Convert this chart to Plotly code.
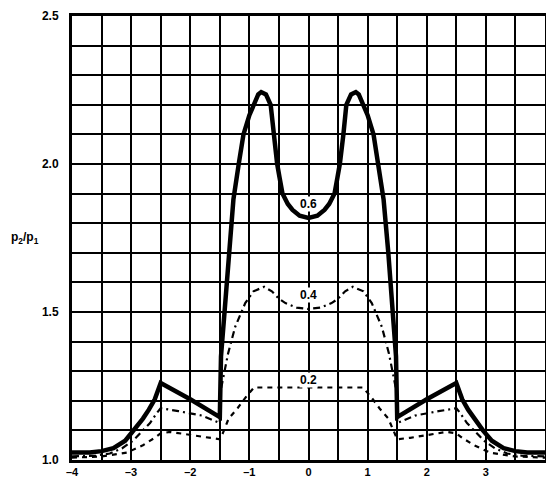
import plotly.graph_objects as go

# ---- data ----
curve06_x = [-4.0, -3.7, -3.5, -3.3, -3.1, -2.95, -2.8, -2.7, -2.6, -2.5, -2.0, -1.5,
             -1.48, -1.42, -1.35, -1.27, -1.18, -1.1, -1.0, -0.93, -0.85, -0.8, -0.72,
             -0.64, -0.59, -0.53, -0.49, -0.44, -0.35, -0.27, -0.15, 0.0,
             0.15, 0.27, 0.35, 0.44, 0.49, 0.53, 0.59, 0.64, 0.72, 0.8, 0.85, 0.93,
             1.0, 1.1, 1.18, 1.27, 1.35, 1.42, 1.48,
             1.5, 2.0, 2.5, 2.6, 2.7, 2.8, 2.95, 3.1, 3.3, 3.5, 3.7, 4.0]
curve06_y = [1.025, 1.025, 1.03, 1.04, 1.065, 1.10, 1.14, 1.17, 1.205, 1.26, 1.205, 1.145,
             1.35, 1.50, 1.70, 1.88, 2.00, 2.10, 2.165, 2.20, 2.235, 2.243, 2.235,
             2.20, 2.10, 2.00, 1.955, 1.90, 1.865, 1.845, 1.825, 1.818,
             1.825, 1.845, 1.865, 1.90, 1.955, 2.00, 2.10, 2.20, 2.235, 2.243, 2.235, 2.20,
             2.165, 2.10, 2.00, 1.88, 1.70, 1.50, 1.35,
             1.145, 1.205, 1.26, 1.205, 1.17, 1.14, 1.10, 1.065, 1.04, 1.03, 1.025, 1.025]

curve04_x = [-4.0, -3.6, -3.36, -3.15, -2.97, -2.8, -2.68, -2.56, -2.5, -2.2, -1.8, -1.5,
             -1.5, -1.45, -1.36, -1.24, -1.07, -0.93, -0.75, -0.62, -0.5, -0.39, -0.2, 0.0,
             0.2, 0.39, 0.5, 0.62, 0.75, 0.93, 1.07, 1.24, 1.36, 1.45, 1.5,
             1.5, 1.8, 2.2, 2.5, 2.56, 2.68, 2.8, 2.97, 3.15, 3.36, 3.6, 4.0]
curve04_y = [1.012, 1.015, 1.022, 1.04, 1.065, 1.10, 1.125, 1.16, 1.175, 1.165, 1.15, 1.125,
             1.22, 1.27, 1.36, 1.45, 1.53, 1.57, 1.585, 1.57, 1.545, 1.53, 1.515, 1.51,
             1.515, 1.53, 1.545, 1.57, 1.585, 1.57, 1.53, 1.45, 1.36, 1.27, 1.22,
             1.125, 1.15, 1.165, 1.175, 1.16, 1.125, 1.10, 1.065, 1.04, 1.022, 1.015, 1.012]

curve02_x = [-4.0, -3.5, -3.07, -2.8, -2.6, -2.5, -2.34, -2.0, -1.72, -1.5,
             -1.45, -1.35, -1.2, -1.05, -0.92, -0.5, 0.0, 0.5, 0.92, 1.05, 1.2, 1.35, 1.45,
             1.5, 1.72, 2.0, 2.34, 2.5, 2.6, 2.8, 3.07, 3.5, 4.0]
curve02_y = [1.008, 1.012, 1.025, 1.05, 1.075, 1.09, 1.095, 1.085, 1.075, 1.07,
             1.09, 1.14, 1.175, 1.215, 1.245, 1.245, 1.245, 1.245, 1.245, 1.215, 1.175, 1.14, 1.09,
             1.07, 1.075, 1.085, 1.095, 1.09, 1.075, 1.05, 1.025, 1.012, 1.008]

curve_labels = ["0.6", "0.4", "0.2"]
label_y = [1.865, 1.557, 1.27]

x_ticks = [-4, -3, -2, -1, 0, 1, 2, 3, 4]
y_ticks = [1.0, 1.5, 2.0, 2.5]
y_title = "p<sub>2</sub>/p<sub>1</sub>"

FONT = "Liberation Sans"

fig = go.Figure()
fig.add_trace(go.Scatter(x=curve02_x, y=curve02_y, mode="lines",
                         line=dict(color="black", width=2.2, dash="5px,5px"),
                         showlegend=False))
fig.add_trace(go.Scatter(x=curve04_x, y=curve04_y, mode="lines",
                         line=dict(color="black", width=2.2, dash="7px,4px,2px,4px"),
                         showlegend=False))
fig.add_trace(go.Scatter(x=curve06_x, y=curve06_y, mode="lines",
                         line=dict(color="black", width=4.5),
                         showlegend=False))

for t, yv in zip(curve_labels, label_y):
    fig.add_annotation(x=0, y=yv, text="<b>%s</b>" % t, showarrow=False,
                       font=dict(family=FONT, size=12, color="black"),
                       bgcolor="white", borderpad=0,
                       xanchor="center", yanchor="middle")

fig.add_annotation(x=-0.1, xref="paper", y=1.75, yref="y", text="<b>%s</b>" % y_title,
                   showarrow=False, font=dict(family=FONT, size=12, color="black"),
                   xanchor="center", yanchor="middle")

fig.update_layout(
    width=546, height=479,
    margin=dict(l=72, r=1, t=16, b=19),
    paper_bgcolor="white", plot_bgcolor="white",
    font=dict(family=FONT, size=12, color="black"),
)
fig.update_xaxes(
    range=[-4, 4], tickvals=x_ticks,
    ticktext=["<b>%s</b>" % ("\u2013%d" % -v if v < 0 else str(v)) for v in x_ticks],
    tickfont=dict(family=FONT, size=11, color="black"),
    showgrid=True, gridcolor="black", gridwidth=2,
    minor=dict(dtick=0.5, tick0=0, showgrid=True, gridcolor="black", gridwidth=2),
    zeroline=False, showline=True, linecolor="black", linewidth=3, mirror=True,
    ticks="", ticklabelstandoff=0, automargin=False,
)
fig.update_yaxes(
    range=[1.0, 2.5], tickvals=y_ticks, ticktext=["<b>%.1f</b>" % v for v in y_ticks],
    tickfont=dict(family=FONT, size=12, color="black"),
    showgrid=True, gridcolor="black", gridwidth=2,
    minor=dict(dtick=0.1, tick0=1.0, showgrid=True, gridcolor="black", gridwidth=2),
    zeroline=False, showline=True, linecolor="black", linewidth=3, mirror=True,
    ticks="", ticklabelstandoff=8, automargin=False,
)

fig.write_html("out.html", config={"displayModeBar": False},
               post_script="document.body.style.margin='0';document.body.style.padding='0';document.body.style.overflow='hidden';")
